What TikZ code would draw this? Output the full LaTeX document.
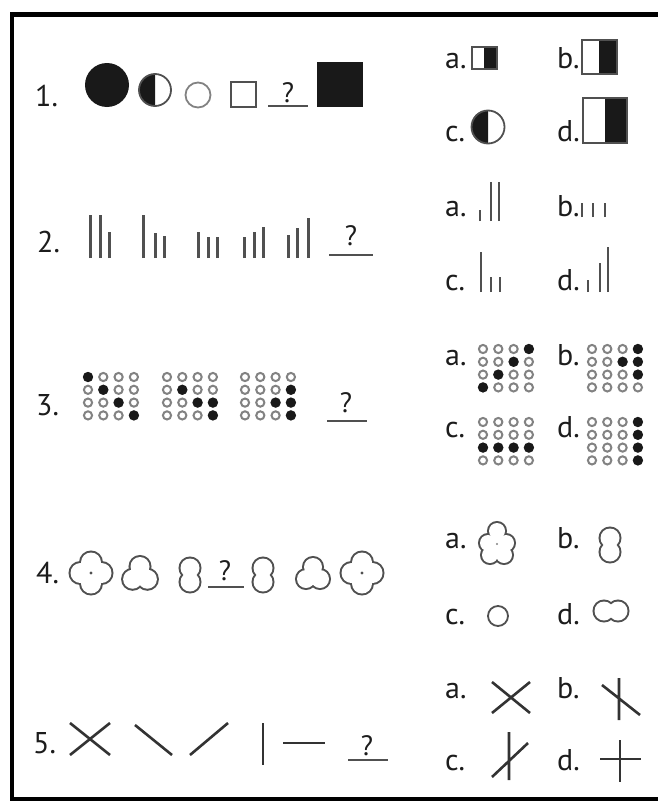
\documentclass[tikz,border=0pt]{standalone}
\usepackage{fontspec}
\setmainfont{PT Sans}
\usepackage{tikz}
\definecolor{ink}{RGB}{28,28,28}
\definecolor{pen}{RGB}{80,80,80}
\definecolor{ring}{RGB}{130,130,130}
\tikzset{
  lbl/.style={font=\fontsize{30}{32}\selectfont,text=ink,inner sep=0pt,anchor=base west},
  qmark/.style={font=\fontsize{28}{30}\selectfont,text=ink,inner sep=0pt,anchor=base},
  uline/.style={draw=pen,line width=2.4pt},
  bar/.style={draw=pen,line width=3pt},
  sbar/.style={draw=pen,line width=2.4pt},
  stroke/.style={draw=ink!90,line width=2.6pt},
  odot/.style={draw=ring,line width=2pt,fill=white},
  fdot/.style={fill=black!90},
  lobe/.style={draw=pen,line width=4pt},
  outl/.style={draw=pen,line width=1.8pt},
}

\begin{document}
\begin{tikzpicture}[x=1pt,y=-1pt]
  \useasboundingbox (0,0) rectangle (658,803);
  \draw[line width=4.5pt] (658,14.5) -| (12,799) -- (658,799);
  % row labels
  \node[lbl] (n1) at (35,106) {1.};
  \node[lbl] (n2) at (37,252) {2.};
  \node[lbl] (n3) at (36,415) {3.};
  \node[lbl] (n4) at (36,583) {4.};
  \node[lbl] (n5) at (33,753) {5.};
  % option labels
  \foreach \r/\ya/\yc in {1/68/141,2/216/290,3/365/437,4/548/624,5/698/770}{
    \node[lbl] (a\r) at (445,\ya) {a.};
    \node[lbl] (b\r) at (557,\ya) {b.};
    \node[lbl] (c\r) at (445,\yc) {c.};
    \node[lbl] (d\r) at (557,\yc) {d.};
  }
  % question marks
  \node[qmark] (q1) at (288,102) {?}; \draw[uline] (268,106) -- (308,106);
  \node[qmark] (q2) at (351,245) {?}; \draw[uline] (329,255) -- (373,255);
  \node[qmark] (q3) at (346,412) {?}; \draw[uline] (327,421) -- (367,421);
  \node[qmark] (q4) at (225,580) {?}; \draw[uline] (208,587) -- (244,587);
  \node[qmark] (q5) at (367,755) {?}; \draw[uline] (348,760) -- (388,760);

  % row 1
  \fill[black!90] (107,85) circle[radius=22pt];
  \fill[black!90] (155,90) ++(0pt,16pt) arc[start angle=90,end angle=270,radius=16pt] -- cycle;
  \draw[outl] (155,90) circle[radius=16pt];
  \draw[draw=ring,line width=1.8pt] (198,95) circle[radius=12.5pt];
  \draw[outl] (231,82) rectangle (256,107);
  \fill[black!90] (317,62) rectangle (363,107);
  \foreach \xa/\xm/\xb/\ya/\yb in {472/484/497/47/69,582/599/617/40/74,583/605/627/98/143}{
    \fill[black!90] (\xm,\ya) rectangle (\xb,\yb);
    \draw[outl] (\xa,\ya) rectangle (\xb,\yb);
  }
  \fill[black!90] (488,127) ++(0pt,16.5pt) arc[start angle=90,end angle=270,radius=16.5pt] -- cycle;
  \draw[outl] (488,127) circle[radius=16.5pt];

  % row 2
  \foreach \x/\t in {90/215,100/215,109/232,143/215,155/233,164/236,198/232,208/237,217/237,
                     244/237,254/232,263/227,288/235,297/228,308/218}
    \draw[bar] (\x,258) -- (\x,\t);
  \foreach \x/\t/\b in {480/210/221,491/182/221,499/182/221,582/203/217,593/203/217,605/203/217,
                        481/252/292,491/277/292,500/277/292,588/280/292,600/263/292,608/247/292}
    \draw[sbar] (\x,\b) -- (\x,\t);

  % row 3
  \foreach \gx/\gy/\blk in {88/377/{0/0,1/1,2/2,3/3},167/377/{1/1,2/2,2/3,3/3},245/377/{1/3,2/2,2/3,3/3},
                            483/349/{0/3,1/2,2/1,3/0},592/349/{0/3,1/2,1/3,2/3},
                            483/422/{2/0,2/1,2/2,2/3},592/422/{0/3,1/3,2/3,3/3}}{
    \begin{scope}[shift={(\gx,\gy)}]
      \foreach \r in {0,...,3}
        \foreach \c in {0,...,3}
          \draw[odot] (\c*15.3,\r*12.8) circle[radius=4.1pt];
      \foreach \r/\c in \blk
        \fill[fdot] (\c*15.3,\r*12.8) circle[radius=5.1pt];
    \end{scope}
  }

  % row 4
  \foreach \cx/\cy/\lr/\core/\lobes in {91/573/10/10/{10.5/0,0/10.5,-10.5/0,0/-10.5},
                                        140/575/9.5/9/{0/-8.5,-7.4/4.25,7.4/4.25},
                                        190/575/9.5/0/{0/-7,0/7},
                                        263/575/9.5/0/{0/-7,0/7},
                                        313/575/9/8.5/{0/-8,-7/4,7/4},
                                        362/573/10/10/{10.5/0,0/10.5,-10.5/0,0/-10.5},
                                        497/544/8/8/{0/-13,-9/-1,9/-1,-7/11,7/11},
                                        610/545/9.5/0/{0/-7,0/7},
                                        611/611/9.5/0/{-7/0,7/0}}{
    \begin{scope}[shift={(\cx,\cy)}]
      \foreach \lx/\ly in \lobes \draw[lobe] (\lx,\ly) circle[radius=\lr pt];
      \foreach \lx/\ly in \lobes \fill[white] (\lx,\ly) circle[radius=\lr pt];
      \fill[white] (0,0) circle[radius=\core pt];
    \end{scope}
  }
  \fill[pen] (91,573) circle[radius=1.6pt];
  \fill[pen] (362,573) circle[radius=1.6pt];
  \fill[ring] (497,544) circle[radius=1.2pt];
  \draw[outl] (498,616) circle[radius=10pt];

  % row 5
  \draw[stroke] (70,723) -- (110,755) (70,755) -- (110,723);
  \draw[stroke] (135,725) -- (172,755);
  \draw[stroke] (190,755) -- (228,723);
  \draw[stroke] (263,723) -- (263,765);
  \draw[stroke] (283,743) -- (325,743);
  \draw[stroke] (492,682) -- (530,713) (492,713) -- (530,682);
  \draw[stroke] (602,685) -- (640,715) (619,678) -- (619,720);
  \draw[stroke] (492,777) -- (528,743) (509,732) -- (509,780);
  \draw[stroke] (600,759) -- (641,759) (620,740) -- (620,782);
\end{tikzpicture}
\end{document}
